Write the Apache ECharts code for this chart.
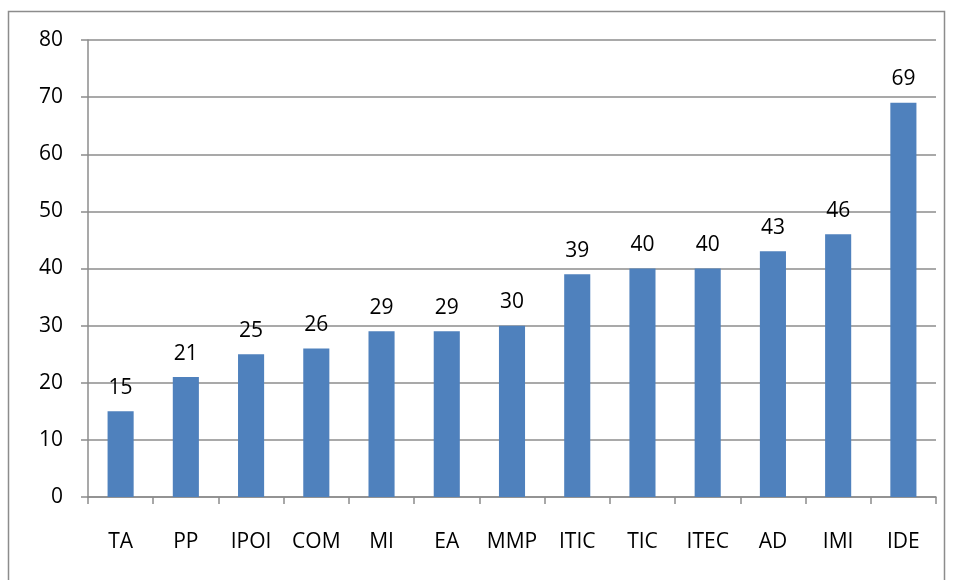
<!DOCTYPE html>
<html>
<head>
<meta charset="utf-8">
<script src="https://cdn.jsdelivr.net/npm/echarts@6/dist/echarts.min.js"></script>
<style>
  html, body { margin: 0; padding: 0; background: #fff; }
  #chart { width: 955px; height: 580px; }
</style>
</head>
<body>
<div id="chart"></div>
<script>
// categories and values
const categories = ["TA", "PP", "IPOI", "COM", "MI", "EA", "MMP", "ITIC", "TIC", "ITEC", "AD", "IMI", "IDE"];
const values = [15, 21, 25, 26, 29, 29, 30, 39, 40, 40, 43, 46, 69];
const yTicks = [0, 10, 20, 30, 40, 50, 60, 70, 80];

const font = "'Open Sans', 'Liberation Sans', sans-serif";
const myChart = echarts.init(document.getElementById("chart"));

const option = {
  animation: false,
  graphic: [
    {
      type: "rect",
      shape: { x: 8.5, y: 11.5, width: 936, height: 600 },
      style: { fill: "none", stroke: "#8c8c8c", lineWidth: 1.5 },
      silent: true,
    },
  ],
  grid: { left: 88, right: 19, top: 40, bottom: 83 },
  xAxis: {
    type: "category",
    data: categories,
    axisLine: { lineStyle: { color: "#8c8c8c", width: 1.5 } },
    axisTick: { show: true, length: 7, interval: 0, alignWithLabel: false, lineStyle: { color: "#8c8c8c", width: 1.5 } },
    axisLabel: { color: "#000", fontFamily: font, fontSize: 21, margin: 35, interval: 0 },
  },
  yAxis: {
    type: "value",
    min: yTicks[0],
    max: yTicks[yTicks.length - 1],
    interval: 10,
    axisLine: { show: true, lineStyle: { color: "#8c8c8c", width: 1.5 } },
    axisTick: { show: true, length: 7, lineStyle: { color: "#8c8c8c", width: 1.5 } },
    axisLabel: { color: "#000", fontFamily: font, fontSize: 21, margin: 25 },
    splitLine: { lineStyle: { color: "#8c8c8c", width: 1.5 } },
  },
  series: [
    {
      type: "bar",
      data: values,
      barCategoryGap: "60%",
      itemStyle: { color: "#4F81BD" },
      label: {
        show: true,
        position: "top",
        distance: 13,
        color: "#000",
        fontFamily: font,
        fontSize: 21,
      },
    },
  ],
};

option && myChart.setOption(option);
</script>
</body>
</html>
